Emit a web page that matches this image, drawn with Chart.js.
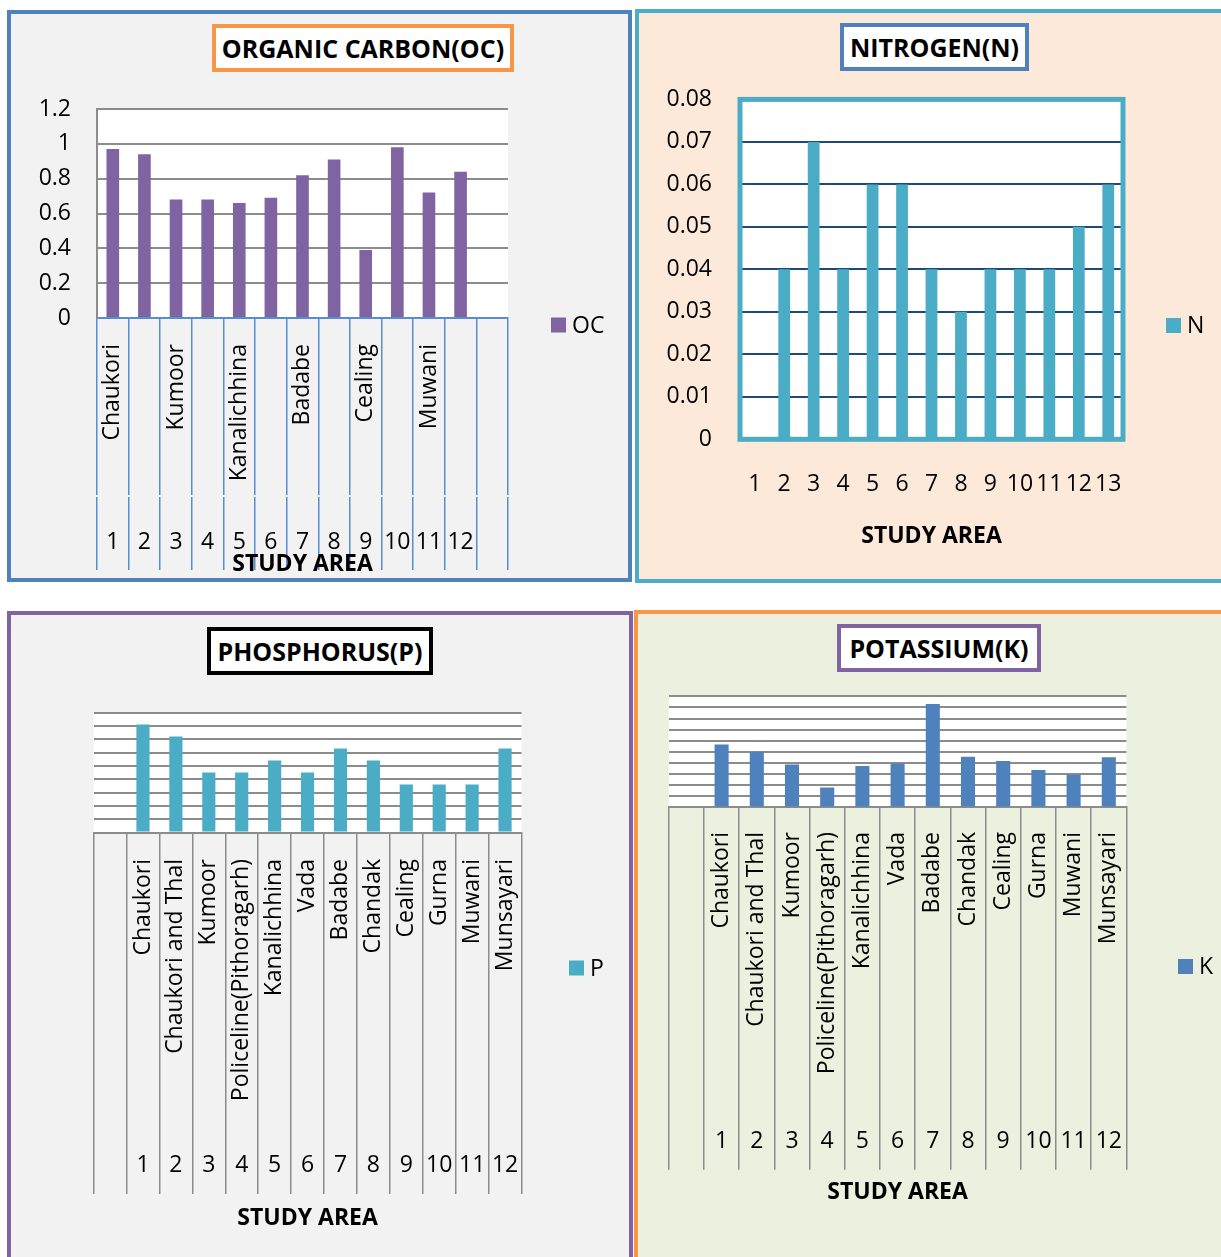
<!DOCTYPE html>
<html>
<head>
<meta charset="utf-8">
<title>Soil nutrients by study area</title>
<script src="https://cdn.jsdelivr.net/npm/chart.js@4.4.1/dist/chart.umd.min.js"></script>
<style>
    body { margin: 0; background: #ffffff; }
    #page { position: relative; width: 1221px; height: 1257px; overflow: hidden; background: #ffffff; font-family: 'Open Sans', sans-serif; }
    .panel { position: absolute; box-sizing: border-box; border: 4px solid; }
    .title { position: absolute; box-sizing: border-box; border: 4px solid; background: #ffffff; color: #000; font-weight: bold; font-size: 25px; display: flex; align-items: center; justify-content: center; white-space: nowrap; }
    canvas { position: absolute; }
</style>
</head>
<body>
<div id="page">
    <div class="panel" style="left:7px;top:10px;width:625px;height:572px;border-color:#4f81bd;background:#f2f2f2"></div>
    <div class="panel" style="left:635px;top:9px;width:620px;height:574px;border-color:#4bacc6;background:#fde9d9"></div>
    <div class="panel" style="left:7px;top:611px;width:626px;height:700px;border-color:#8064a2;background:#f2f2f2"></div>
    <div class="panel" style="left:634px;top:610px;width:620px;height:700px;border-color:#f79646;background:#ebf1de"></div>

    <canvas id="ocChart" width="617" height="502" style="left:11px;top:76px"></canvas>
    <canvas id="nChart" width="581" height="502" style="left:640px;top:76px"></canvas>
    <canvas id="pChart" width="618" height="577" style="left:11px;top:680px"></canvas>
    <canvas id="kChart" width="582" height="577" style="left:639px;top:680px"></canvas>

    <div class="title" style="left:212px;top:24px;width:302px;height:48px;border-color:#f79646">ORGANIC CARBON(OC)</div>
    <div class="title" style="left:840px;top:23px;width:189px;height:48px;border-color:#4f81bd">NITROGEN(N)</div>
    <div class="title" style="left:207px;top:627px;width:226px;height:48px;border-color:#000000">PHOSPHORUS(P)</div>
    <div class="title" style="left:837px;top:624px;width:204px;height:48px;border-color:#8064a2">POTASSIUM(K)</div>
</div>

<script>
// Study areas and their serial numbers
const siteNames = ['Chaukori', 'Chaukori and Thal', 'Kumoor', 'Policeline(Pithoragarh)', 'Kanalichhina',
    'Vada', 'Badabe', 'Chandak', 'Cealing', 'Gurna', 'Muwani', 'Munsayari'];
const siteNumbers = ['1', '2', '3', '4', '5', '6', '7', '8', '9', '10', '11', '12'];
const nCategories = ['1', '2', '3', '4', '5', '6', '7', '8', '9', '10', '11', '12', '13'];

// Values
const ocValues = [0.97, 0.94, 0.68, 0.68, 0.66, 0.69, 0.82, 0.91, 0.39, 0.98, 0.72, 0.84];
const nValues = [0, 0.04, 0.07, 0.04, 0.06, 0.06, 0.04, 0.03, 0.04, 0.04, 0.04, 0.05, 0.06];
const pValues = [9, 8, 5, 5, 6, 5, 7, 6, 4, 4, 4, 7];
const kValues = [283, 251, 193, 90, 187, 198, 466, 228, 209, 168, 147, 226];

// Colors
const colors = {
    oc: '#8064a2',
    n: '#4bacc6',
    p: '#4bacc6',
    k: '#4f81bd',
    grid: '#8c8c8c',
    navy: '#1f497d',
    blueLine: '#558ed5',
    text: '#000000'
};

const FONT = "'Open Sans', sans-serif";
const tickFont = { family: FONT, size: 23 };
const axisTitleFont = { family: FONT, size: 23, weight: 'bold' };

// White plot area (and optional frame round it)
const plotBackground = {
    id: 'plotBackground',
    beforeDraw(chart, args, opts) {
        const { ctx, chartArea: a } = chart;
        ctx.save();
        ctx.fillStyle = opts.color || '#ffffff';
        ctx.fillRect(a.left, a.top, a.width, a.height);
        ctx.restore();
    },
    afterDatasetsDraw(chart, args, opts) {
        if (!opts.frameColor) return;
        const { ctx, chartArea: a } = chart;
        ctx.save();
        ctx.strokeStyle = opts.frameColor;
        ctx.lineWidth = opts.frameWidth;
        ctx.strokeRect(a.left, a.top, a.width, a.height);
        ctx.restore();
    }
};

// Excel-like legend: one square and the series name
const sideLegend = {
    id: 'sideLegend',
    afterDraw(chart, args, opts) {
        const ds = chart.data.datasets[0];
        const ctx = chart.ctx;
        ctx.save();
        ctx.fillStyle = ds.backgroundColor;
        ctx.fillRect(opts.x, opts.y - 7.5, 15, 15);
        ctx.fillStyle = colors.text;
        ctx.font = `23px ${FONT}`;
        ctx.textBaseline = 'middle';
        ctx.fillText(ds.label, opts.x + 21, opts.y + 1);
        ctx.restore();
    }
};

// y labels: "1.2", "1", "0.8" ... like Excel
const plainNumber = value => String(Math.round(value * 1000) / 1000);

// Value axis with labels; the gap to the plot comes from an invisible tick mark
function valueAxis(max, step, gap, width, gridColor, showBorder) {
    return {
        min: 0, max: max,
        ticks: { stepSize: step, padding: 0, font: tickFont, color: colors.text, callback: plainNumber },
        grid: { color: gridColor, lineWidth: 2, drawTicks: true, tickLength: gap, tickColor: 'rgba(0,0,0,0)' },
        border: { display: showBorder, color: gridColor, width: 2 },
        afterFit: s => { s.width = width; }
    };
}

// Two-level category axis: names (rotated) over serial numbers
function nameAxis(opts) {
    return {
        weight: 0,
        offset: true,
        grid: { display: true, drawOnChartArea: false, drawTicks: true, offset: true,
            tickLength: opts.tickLength, color: opts.lineColor, lineWidth: 1.5 },
        border: { display: true, color: opts.lineColor, width: 2 },
        ticks: {
            autoSkip: false, minRotation: 90, maxRotation: 90,
            padding: opts.padding, font: tickFont, color: colors.text,
            callback: opts.callback
        },
        afterFit: s => { s.height = opts.height; }
    };
}

function numberAxis(opts) {
    return {
        type: 'category',
        position: 'bottom',
        weight: 1,
        offset: true,
        labels: opts.labels,
        grid: { display: true, drawOnChartArea: false, drawTicks: true, offset: true,
            tickLength: opts.tickLength, color: opts.lineColor, lineWidth: 1.5 },
        border: { display: false },
        ticks: { autoSkip: false, minRotation: 0, maxRotation: 0, padding: opts.padding, font: tickFont, color: colors.text },
        title: { display: true, text: 'STUDY AREA', font: axisTitleFont, color: colors.text,
            padding: { top: 0, bottom: opts.titleBottom } },
        afterFit: s => { s.height = opts.height; }
    };
}

function barDataset(label, data, color) {
    return {
        label: label,
        data: data,
        backgroundColor: color,
        borderWidth: 0,
        barPercentage: 0.4,
        categoryPercentage: 1
    };
}

const commonOptions = {
    responsive: false,
    animation: false,
    events: [],
    plugins: { legend: { display: false }, tooltip: { enabled: false } }
};

// Organic carbon
function initOcChart() {
    const labels = [...siteNames, ''];
    const numbers = [...siteNumbers, ''];
    new Chart(document.getElementById('ocChart'), {
        type: 'bar',
        data: { labels: labels, datasets: [barDataset('OC', [...ocValues, null], colors.oc)] },
        options: {
            ...commonOptions,
            layout: { padding: { left: 16, top: 33, right: 120, bottom: 0 } },
            plugins: { ...commonOptions.plugins, plotBackground: {}, sideLegend: { x: 540, y: 249 } },
            scales: {
                x: nameAxis({ tickLength: 177, padding: -151, height: 179, lineColor: colors.blueLine,
                    callback: (v, i) => (i % 2 === 0 ? labels[i] : '') }),
                x2: numberAxis({ labels: numbers, tickLength: 73, padding: -41, height: 81,
                    titleBottom: 0, lineColor: colors.blueLine }),
                y: valueAxis(1.2, 0.2, 26, 70, colors.grid, true)
            }
        },
        plugins: [plotBackground, sideLegend]
    });
}

// Nitrogen
function initNChart() {
    new Chart(document.getElementById('nChart'), {
        type: 'bar',
        data: { labels: nCategories, datasets: [barDataset('N', nValues, colors.n)] },
        options: {
            ...commonOptions,
            layout: { padding: { left: 20, top: 23.4, right: 98, bottom: 0 } },
            plugins: { ...commonOptions.plugins,
                plotBackground: { frameColor: colors.n, frameWidth: 5 },
                sideLegend: { x: 526, y: 249.5 } },
            scales: {
                x: {
                    grid: { display: false, drawTicks: false },
                    border: { display: false },
                    ticks: { autoSkip: false, maxRotation: 0, padding: 31, font: tickFont, color: colors.text },
                    title: { display: true, text: 'STUDY AREA', font: axisTitleFont, color: colors.text,
                        padding: { top: 0, bottom: 28 } },
                    afterFit: s => { s.height = 138.7; }
                },
                y: valueAxis(0.08, 0.01, 28, 80, colors.navy, false)
            }
        },
        plugins: [plotBackground, sideLegend]
    });
}

// Phosphorus and potassium share the same layout
function initSiteChart(id, label, values, color, geo) {
    const labels = ['', ...siteNames];
    const numbers = ['', ...siteNumbers];
    new Chart(document.getElementById(id), {
        type: 'bar',
        data: { labels: labels, datasets: [barDataset(label, [null, ...values], color)] },
        options: {
            ...commonOptions,
            layout: { padding: geo.padding },
            plugins: { ...commonOptions.plugins, plotBackground: {}, sideLegend: geo.legend },
            scales: {
                x: nameAxis({ tickLength: geo.nameTick, padding: geo.namePad, height: geo.nameHeight,
                    lineColor: colors.grid, callback: (v, i) => labels[i] }),
                x2: numberAxis({ labels: numbers, tickLength: geo.numTick, padding: geo.numPad,
                    height: geo.numHeight, titleBottom: geo.titleBottom, lineColor: colors.grid }),
                y: {
                    min: 0, max: geo.max,
                    ticks: { display: false, count: geo.count },
                    grid: { color: colors.grid, lineWidth: 2, drawTicks: false },
                    border: { display: false },
                    afterFit: s => { s.width = 0; }
                }
            }
        },
        plugins: [plotBackground, sideLegend]
    });
}

function initCharts() {
    initOcChart();
    initNChart();
    initSiteChart('pChart', 'P', pValues, colors.p, {
        padding: { left: 82.6, top: 32.5, right: 107.5, bottom: 0 },
        nameTick: 302.4, namePad: -276, nameHeight: 302.4,
        numTick: 59, numPad: -42, numHeight: 122, titleBottom: 25,
        max: 10, count: 10,
        legend: { x: 558, y: 288 }
    });
    initSiteChart('kChart', 'K', kValues, colors.k, {
        padding: { left: 29.8, top: 16.4, right: 94.6, bottom: 0 },
        nameTick: 302.6, namePad: -278, nameHeight: 302.6,
        numTick: 59.7, numPad: -42.5, numHeight: 147, titleBottom: 50.5,
        max: 500, count: 11,
        legend: { x: 539, y: 286.5 }
    });
}

initCharts();
</script>
</body>
</html>
